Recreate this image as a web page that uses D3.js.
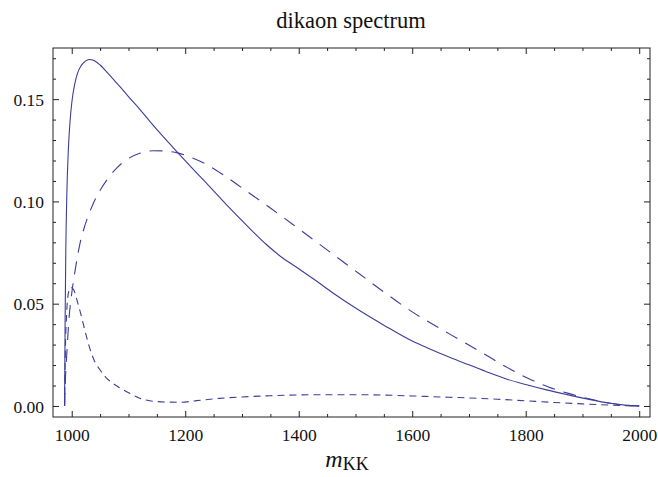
<!DOCTYPE html>
<html>
<head>
<meta charset="utf-8">
<script src="https://cdn.jsdelivr.net/npm/d3@7/dist/d3.min.js"></script>
<style>
  html, body { margin: 0; padding: 0; background: #fff; }
  svg { display: block; }
  .tick text { font-family: "Liberation Serif", "DejaVu Serif", serif; fill: #111; }
</style>
</head>
<body>
<svg id="chart" width="658" height="477"></svg>
<script>
// Dikaon invariant-mass spectrum: total (solid) and two components (dashed)
const titleText = "dikaon spectrum";

// total spectrum (solid)
const totalMass = [987.4, 988.3, 989.5, 991.5, 994, 997, 1000, 1005, 1010, 1017, 1024, 1031, 1040, 1050, 1062, 1075, 1085, 1100, 1120, 1138, 1160, 1188, 1220, 1250, 1276, 1310, 1344, 1370, 1400, 1430, 1461, 1505, 1550, 1600, 1630, 1667, 1700, 1733, 1767, 1800, 1835, 1872, 1910, 1949, 1975, 2000];
const totalVal  = [0, 0.040, 0.075, 0.105, 0.125, 0.139, 0.148, 0.157, 0.1625, 0.1665, 0.1686, 0.1694, 0.1688, 0.1667, 0.1632, 0.1592, 0.1561, 0.1512, 0.1450, 0.1390, 0.1320, 0.1235, 0.1140, 0.1052, 0.0974, 0.0878, 0.0787, 0.0727, 0.0671, 0.0613, 0.0551, 0.0470, 0.0395, 0.0317, 0.0280, 0.0237, 0.0201, 0.0165, 0.0131, 0.0105, 0.0080, 0.0056, 0.0033, 0.0013, 0.0004, 0];

// broad component (long dashes)
const broadMass = [987.4, 989, 991, 995, 1000, 1007, 1015, 1023, 1038, 1062, 1080, 1097, 1120, 1144, 1165, 1188, 1210, 1238, 1267, 1302, 1350, 1400, 1461, 1505, 1550, 1600, 1667, 1725, 1760, 1800, 1840, 1872, 1919, 1960, 2000];
const broadVal  = [0, 0.014, 0.024, 0.042, 0.055, 0.068, 0.080, 0.088, 0.099, 0.1105, 0.1165, 0.1205, 0.1235, 0.1248, 0.1246, 0.1236, 0.1215, 0.1180, 0.1130, 0.1062, 0.0968, 0.0866, 0.0740, 0.0650, 0.0557, 0.0460, 0.0350, 0.0257, 0.0200, 0.0140, 0.0093, 0.0064, 0.0030, 0.0008, 0];

// threshold component (short dashes)
const threshMass = [987.4, 989, 991, 994, 998, 1003, 1010, 1015, 1025, 1032, 1040, 1050, 1060, 1073, 1085, 1100, 1120, 1140, 1170, 1190, 1220, 1260, 1300, 1350, 1400, 1450, 1500, 1550, 1600, 1650, 1700, 1750, 1800, 1850, 1900, 1950, 2000];
const threshVal  = [0, 0.030, 0.045, 0.055, 0.058, 0.057, 0.051, 0.046, 0.035, 0.028, 0.022, 0.0176, 0.014, 0.011, 0.0088, 0.0065, 0.0038, 0.0024, 0.0019, 0.0018, 0.0026, 0.0037, 0.0044, 0.0050, 0.0054, 0.0055, 0.0055, 0.0053, 0.0049, 0.0044, 0.0039, 0.0033, 0.0025, 0.0017, 0.0010, 0.0004, 0];

// axis ticks
const xMajorTicks = [1000, 1200, 1400, 1600, 1800, 2000];
const xMinorTicks = d3.range(1000, 2001, 50).filter(v => v % 200 !== 0);
const yMajorTicks = [0, 0.05, 0.10, 0.15];
const yMinorTicks = d3.range(0, 18).map(i => i / 100).filter(v => Math.round(v * 100) % 5 !== 0);

const frame = { left: 53, right: 650, top: 48, bottom: 417 };
const lineColor = "#3d3d99";
const frameColor = "#222";

const svg = d3.select("#chart");

const x = d3.scaleLinear().domain([967, 2019]).range([frame.left, frame.right]);
const y = d3.scaleLinear().domain([-0.0054, 0.175]).range([frame.bottom, frame.top]);

// frame
svg.append("rect")
  .attr("x", frame.left).attr("y", frame.top)
  .attr("width", frame.right - frame.left).attr("height", frame.bottom - frame.top)
  .attr("fill", "none").attr("stroke", frameColor).attr("stroke-width", 1);

function styleAxis(g) {
  g.select(".domain").remove();
  g.selectAll(".tick line").attr("stroke", frameColor).attr("stroke-width", 1);
}

const fmtY = d3.format(".2f");

// bottom axis (labelled) + minor ticks
svg.append("g").attr("transform", `translate(0,${frame.bottom})`)
  .call(d3.axisBottom(x).tickValues(xMajorTicks).tickSize(-6).tickPadding(12).tickFormat(d3.format("d")))
  .call(styleAxis)
  .call(g => g.selectAll(".tick text").attr("font-size", "17.5px").attr("dy", null).attr("y", 24));
svg.append("g").attr("transform", `translate(0,${frame.bottom})`)
  .call(d3.axisBottom(x).tickValues(xMinorTicks).tickSize(-3).tickFormat(""))
  .call(styleAxis);

// top axis (mirrored ticks)
svg.append("g").attr("transform", `translate(0,${frame.top})`)
  .call(d3.axisTop(x).tickValues(xMajorTicks).tickSize(-6).tickFormat(""))
  .call(styleAxis);
svg.append("g").attr("transform", `translate(0,${frame.top})`)
  .call(d3.axisTop(x).tickValues(xMinorTicks).tickSize(-3).tickFormat(""))
  .call(styleAxis);

// left axis (labelled) + minor ticks
svg.append("g").attr("transform", `translate(${frame.left},0)`)
  .call(d3.axisLeft(y).tickValues(yMajorTicks).tickSize(-6).tickPadding(9).tickFormat(fmtY))
  .call(styleAxis)
  .call(g => g.selectAll(".tick text").attr("font-size", "17.5px").attr("dy", "0.36em"));
svg.append("g").attr("transform", `translate(${frame.left},0)`)
  .call(d3.axisLeft(y).tickValues(yMinorTicks).tickSize(-3).tickFormat(""))
  .call(styleAxis);

// right axis (mirrored ticks)
svg.append("g").attr("transform", `translate(${frame.right},0)`)
  .call(d3.axisRight(y).tickValues(yMajorTicks).tickSize(-6).tickFormat(""))
  .call(styleAxis);
svg.append("g").attr("transform", `translate(${frame.right},0)`)
  .call(d3.axisRight(y).tickValues(yMinorTicks).tickSize(-3).tickFormat(""))
  .call(styleAxis);

// curves
const line = d3.line()
  .x(d => x(d[0]))
  .y(d => y(d[1]))
  .curve(d3.curveMonotoneX);

const series = [
  { mass: totalMass,  val: totalVal,  dash: null },
  { mass: broadMass,  val: broadVal,  dash: "13,9" },
  { mass: threshMass, val: threshVal, dash: "7,5" }
];

const plot = svg.append("g");
plot.append("clipPath").attr("id", "clip")
  .append("rect")
  .attr("x", frame.left).attr("y", frame.top)
  .attr("width", frame.right - frame.left).attr("height", frame.bottom - frame.top);

series.forEach(s => {
  plot.append("path")
    .datum(d3.zip(s.mass, s.val))
    .attr("d", line)
    .attr("fill", "none")
    .attr("stroke", lineColor)
    .attr("stroke-width", 1.1)
    .attr("stroke-dasharray", s.dash)
    .attr("clip-path", "url(#clip)");
});

// title
svg.append("text")
  .attr("x", 351).attr("y", 28)
  .attr("text-anchor", "middle")
  .attr("font-family", '"Liberation Serif", "DejaVu Serif", serif')
  .attr("font-size", "22.5px")
  .attr("fill", "#111")
  .text(titleText);

// x-axis label: m_KK
const xl = svg.append("text")
  .attr("x", 347).attr("y", 467)
  .attr("text-anchor", "middle")
  .attr("font-family", '"Liberation Serif", "DejaVu Serif", serif')
  .attr("fill", "#111");
xl.append("tspan").attr("font-style", "italic").attr("font-size", "24px").text("m");
xl.append("tspan").attr("font-size", "18px").attr("dy", 3).text("KK");
</script>
</body>
</html>
